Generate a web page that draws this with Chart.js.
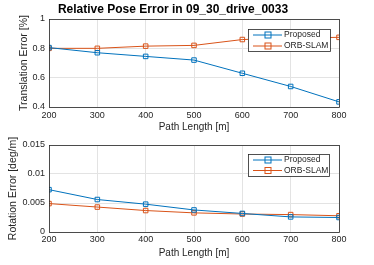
<!DOCTYPE html>
<html>
<head>
<meta charset="utf-8">
<script src="https://cdn.jsdelivr.net/npm/chart.js@4"></script>
<style>
  html, body { margin: 0; padding: 0; background: #fff; }
  #wrap { position: relative; width: 374px; height: 265px; overflow: hidden; }
  .box { position: absolute; left: 0; width: 374px; }
</style>
</head>
<body>
<div id="wrap">
  <div class="box" style="top:0;height:135px"><canvas id="transChart"></canvas></div>
  <div class="box" style="top:130px;height:135px"><canvas id="rotChart"></canvas></div>
</div>
<script>
// data
const pathLengths = [200, 300, 400, 500, 600, 700, 800];
const transProposed = [0.805, 0.77, 0.745, 0.72, 0.63, 0.54, 0.435];
const transOrb = [0.80, 0.80, 0.815, 0.82, 0.86, 0.87, 0.875];
const rotProposed = [0.0073, 0.0056, 0.0048, 0.0038, 0.0032, 0.0026, 0.0025];
const rotOrb = [0.0049, 0.0043, 0.0037, 0.0033, 0.0031, 0.0030, 0.0028];
const seriesNames = ['Proposed', 'ORB-SLAM'];
const seriesColors = ['#0072BD', '#D95319'];

const FONT = '"Liberation Sans", Arial, sans-serif';
const TEXT = '#262626';

function toPoints(ys) {
    return pathLengths.map((x, i) => ({ x: x, y: ys[i] }));
}

function makeDataset(i, ys) {
    return {
        label: seriesNames[i],
        data: toPoints(ys),
        borderColor: seriesColors[i],
        backgroundColor: 'rgba(0,0,0,0)',
        borderWidth: 1,
        pointStyle: 'rect',
        pointRadius: 3.2,
        pointBorderWidth: 1,
        pointBackgroundColor: 'rgba(0,0,0,0)',
        tension: 0,
    };
}

// box around plot area + legend inside plot
const frameAndLegend = {
    id: 'frameAndLegend',
    afterDatasetsDraw(chart, args, opts) {
        const ctx = chart.ctx;
        const a = chart.chartArea;
        ctx.save();
        ctx.strokeStyle = TEXT;
        ctx.lineWidth = 0.8;
        ctx.strokeRect(a.left + 0.5, a.top + 0.5, a.right - a.left, a.bottom - a.top);

        const lg = opts.box;
        ctx.fillStyle = '#fff';
        ctx.fillRect(lg.x, lg.y, lg.w, lg.h);
        ctx.strokeStyle = TEXT;
        ctx.lineWidth = 0.8;
        ctx.strokeRect(lg.x + 0.5, lg.y + 0.5, lg.w, lg.h);
        ctx.font = '8.5px ' + FONT;
        ctx.textBaseline = 'middle';
        chart.data.datasets.forEach((ds, i) => {
            const y = lg.y + lg.rowTop + i * lg.rowGap;
            ctx.strokeStyle = ds.borderColor;
            ctx.lineWidth = 1;
            ctx.beginPath();
            ctx.moveTo(lg.x + 5, y);
            ctx.lineTo(lg.x + 34, y);
            ctx.stroke();
            ctx.strokeRect(lg.x + 17, y - 3, 6, 6);
            ctx.fillStyle = TEXT;
            ctx.fillText(ds.label, lg.x + 36, y);
        });
        ctx.restore();
    },
    afterDraw(chart, args, opts) {
        if (!opts.title) return;
        const ctx = chart.ctx;
        ctx.save();
        ctx.fillStyle = '#000';
        ctx.font = 'bold 12px ' + FONT;
        ctx.textAlign = 'center';
        ctx.textBaseline = 'middle';
        ctx.fillText(opts.title, opts.titleX, opts.titleY);
        ctx.restore();
    }
};

function makeChart(id, dataA, dataB, cfg) {
    return new Chart(document.getElementById(id), {
        type: 'line',
        data: { datasets: [makeDataset(0, dataA), makeDataset(1, dataB)] },
        options: {
            responsive: true,
            maintainAspectRatio: false,
            animation: false,
            layout: { padding: { left: 0, right: 35, top: cfg.top, bottom: 0 } },
            plugins: {
                legend: { display: false },
                tooltip: { enabled: false },
                frameAndLegend: cfg.plugin,
            },
            scales: {
                x: {
                    type: 'linear',
                    min: 200, max: 800,
                    afterFit: (s) => { s.height = cfg.xHeight; },
                    ticks: { stepSize: 100, color: TEXT, font: { family: FONT, size: 9 }, padding: cfg.xTickPad, maxRotation: 0 },
                    grid: { color: '#e3e3e3', drawTicks: false },
                    border: { display: false },
                    title: { display: true, text: 'Path Length [m]', color: TEXT, font: { family: FONT, size: 10 }, padding: { top: 0, bottom: cfg.xTitlePad } },
                },
                y: {
                    min: cfg.yMin, max: cfg.yMax,
                    afterFit: (s) => { s.width = 49; },
                    ticks: {
                        stepSize: cfg.yStep, color: TEXT, font: { family: FONT, size: 9 }, padding: 4,
                        callback: (v) => String(Number(v.toFixed(4))),
                    },
                    grid: { color: '#e3e3e3', drawTicks: false },
                    border: { display: false },
                    title: { display: true, text: cfg.yTitle, color: TEXT, font: { family: FONT, size: 10.5 }, padding: { top: cfg.yTitlePad, bottom: 0 } },
                },
            },
        },
        plugins: [frameAndLegend],
    });
}

makeChart('transChart', transProposed, transOrb, {
    top: 19, xHeight: 28, xTickPad: 3, xTitlePad: 2,
    yMin: 0.4, yMax: 1, yStep: 0.2,
    yTitle: 'Translation Error [%]', yTitlePad: 18,
    plugin: {
        box: { x: 248, y: 29, w: 82, h: 22, rowTop: 6, rowGap: 11 },
        title: 'Relative Pose Error in 09_30_drive_0033', titleX: 173, titleY: 10,
    },
});

makeChart('rotChart', rotProposed, rotOrb, {
    top: 15, xHeight: 33, xTickPad: 2, xTitlePad: 6,
    yMin: 0, yMax: 0.015, yStep: 0.005,
    yTitle: 'Rotation Error [deg/m]', yTitlePad: 7,
    plugin: {
        box: { x: 248, y: 24, w: 81, h: 22, rowTop: 6, rowGap: 10.5 },
    },
});
</script>
</body>
</html>
